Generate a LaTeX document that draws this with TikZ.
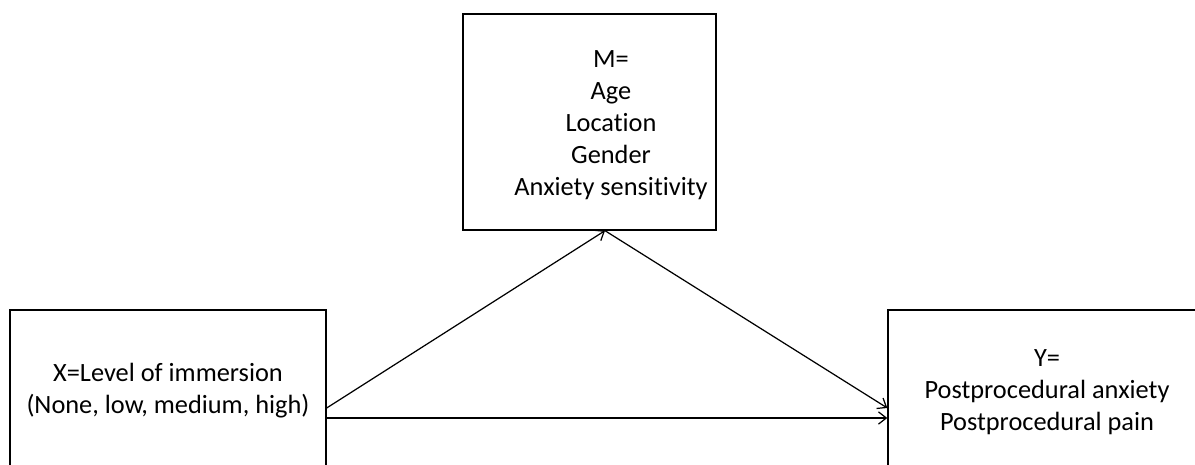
\documentclass[tikz,border=0pt]{standalone}
\usepackage{fontspec}
\setmainfont{Carlito}[Ligatures=NoCommon]
\usetikzlibrary{arrows.meta}

\tikzset{
	blok/.style={draw, line width=0.8pt, rectangle, inner sep=0pt},
	tekst/.style={align=center, font=\fontsize{15}{18.2}\selectfont},
	strelka/.style={-{Straight Barb[length=4.5pt, width=7pt]}, line width=0.7pt}
}

\begin{document}
\begin{tikzpicture}[x=0.02cm, y=-0.02cm]
		\clip (0,0) rectangle (1195,465);
		% блоки
		\node [blok, minimum width=6.32cm, minimum height=3.2cm] (X) at (168,390) {};
		\node [blok, minimum width=5.06cm, minimum height=4.32cm] (M) at (589.5,122) {};
		\node [blok, minimum width=6.36cm, minimum height=3.2cm] (Y) at (1047,390) {};
		% подписи
		\node [tekst] (Xt) at (168,391) {X=Level of immersion\\(None, low, medium, high)};
		\node [tekst] (Mt) at (611,125) {M=\\Age\\Location\\Gender\\Anxiety sensitivity};
		\node [tekst] (Yt) at (1047,392) {Y=\\Postprocedural anxiety\\Postprocedural pain};
		% стрелки
		\draw [strelka] ([yshift=-0.36cm]X.east) -- ([xshift=0.31cm]M.south);
		\draw [strelka] ([xshift=0.31cm]M.south) -- ([yshift=-0.36cm]Y.west);
		\draw [strelka] ([yshift=-0.56cm]X.east) -- ([yshift=-0.56cm]Y.west);
\end{tikzpicture}
\end{document}
